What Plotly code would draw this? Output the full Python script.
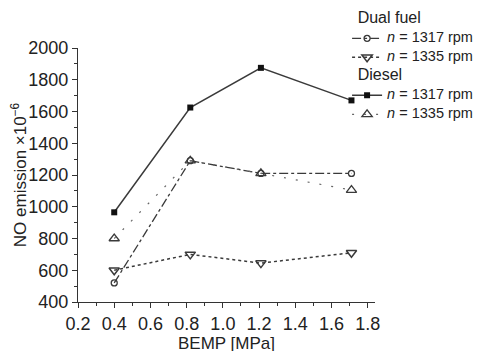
import plotly.graph_objects as go

bemp = [0.4, 0.82, 1.21, 1.71]
dual_1317 = [520, 1290, 1210, 1210]
dual_1335 = [600, 700, 645, 710]
diesel_1317 = [965, 1625, 1875, 1670]
diesel_1335 = [800, 1290, 1210, 1105]

names = ["<i>n</i> = 1317 rpm", "<i>n</i> = 1335 rpm"]
groups = ["Dual fuel", "Diesel"]
C = "#3a3a3a"

def nm(t):
    return "<span style='font-size:14.5px'>" + t + "</span>"

def gt(t):
    return dict(text="&nbsp;&nbsp;<span style='font-size:16px'>" + t + "</span>",
                font=dict(size=10, color="#222"))

fig = go.Figure()
fig.add_trace(go.Scatter(x=bemp, y=dual_1317, name=nm(names[0]), mode="lines+markers",
    line=dict(color=C, width=1.3, dash="dashdot"),
    marker=dict(symbol="circle-open", size=6, color=C, line=dict(width=1.3)),
    legendgroup="dual", legendgrouptitle=gt(groups[0])))
fig.add_trace(go.Scatter(x=bemp, y=dual_1335, name=nm(names[1]), mode="lines+markers",
    line=dict(color=C, width=1.5, dash="dot"),
    marker=dict(symbol="triangle-down-open", size=9, color=C, line=dict(width=1.5)),
    legendgroup="dual"))
fig.add_trace(go.Scatter(x=bemp, y=diesel_1317, name=nm(names[0]), mode="lines+markers",
    line=dict(color=C, width=1.5),
    marker=dict(symbol="square", size=6, color="#111"),
    legendgroup="diesel", legendgrouptitle=gt(groups[1])))
fig.add_trace(go.Scatter(x=bemp, y=diesel_1335, name=nm(names[1]), mode="lines+markers",
    line=dict(color="#666", width=1.2, dash="2px,10px"),
    marker=dict(symbol="triangle-up-open", size=9, color=C, line=dict(width=1.3)),
    legendgroup="diesel"))

axis_common = dict(showline=True, linecolor="#333", linewidth=1.2, ticks="outside",
                   ticklen=5, tickcolor="#333", showgrid=False, zeroline=False,
                   tickfont=dict(size=18, color="#222"),
                   minor=dict(ticks="outside", ticklen=3, tickcolor="#333"))
fig.update_xaxes(range=[0.2, 1.84], dtick=0.2, tick0=0.2, tickformat=".1f",
                 title=dict(text="BEMP [MPa]", font=dict(size=17, color="#222"), standoff=0),
                 **axis_common)
fig.update_xaxes(minor=dict(dtick=0.1))
fig.update_yaxes(range=[400, 2000], dtick=200,
                 title=dict(text="NO emission ×10<sup>−6</sup>", font=dict(size=17, color="#222"), standoff=0),
                 **axis_common)
fig.update_yaxes(minor=dict(dtick=100))

fig.update_layout(
    width=486, height=351,
    margin=dict(l=70, r=119, t=40, b=57, autoexpand=False),
    paper_bgcolor="white", plot_bgcolor="white",
    font=dict(family="Liberation Sans, Arial, sans-serif", color="#222"),
    legend=dict(x=0.906, y=1.17, xanchor="left", yanchor="top",
                font=dict(size=10), tracegroupgap=0, itemwidth=30,
                bgcolor="rgba(0,0,0,0)"),
)
fig.write_html("out.html")
